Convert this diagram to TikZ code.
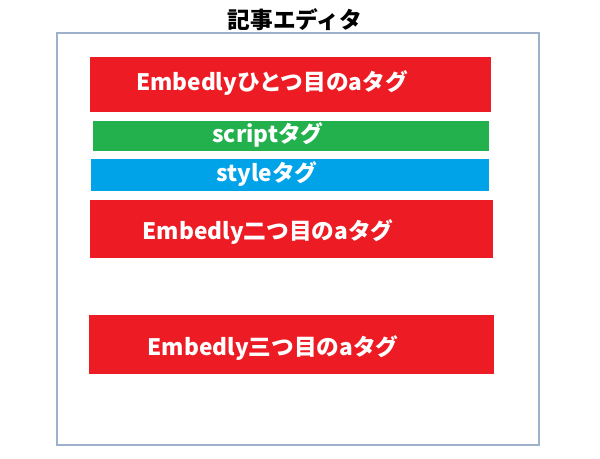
\documentclass[tikz,border=0pt]{standalone}
\usepackage{fontspec}
\setmainfont{Noto Sans CJK JP}
\usetikzlibrary{calc}
\definecolor{pred}{HTML}{ED1C24}
\definecolor{pgreen}{HTML}{22B14C}
\definecolor{pblue}{HTML}{00A2E8}
\definecolor{frame}{HTML}{9DB0CC}
\tikzset{
  box/.style={rectangle, inner sep=0pt, draw=none},
  lbl/.style={text=white, font=\fontsize{17}{19}\selectfont\bfseries, inner sep=0pt, anchor=center},
}
\begin{document}
\begin{tikzpicture}[x=0.75pt,y=-0.75pt]
\useasboundingbox (0,0) rectangle (600,458);
\node[rectangle, draw=frame, line width=1.1pt, minimum width=361.5pt, minimum height=309pt, inner sep=0pt] (frm) at (298,239) {};
\node[font=\fontsize{17}{19}\selectfont\bfseries, inner sep=0pt] (title) at (295,20) {記事エディタ};
\node[box, fill=pred, minimum width=300.75pt, minimum height=41.25pt] (b1) at (290.3,84.5) {};
\node[box, fill=pgreen, minimum width=297pt, minimum height=22.5pt] (b2) at (291,136) {};
\node[box, fill=pblue, minimum width=298.5pt, minimum height=24pt] (b3) at (290,175) {};
\node[box, fill=pred, minimum width=302.25pt, minimum height=43.5pt] (b4) at (291.5,229) {};
\node[box, fill=pred, minimum width=303.75pt, minimum height=44.25pt] (b5) at (291.5,344.5) {};
\node[lbl] (t1) at (272,83) {Embedlyひとつ目のaタグ};
\node[lbl] (t2) at (268,135) {scriptタグ};
\node[lbl] (t3) at (267,174) {styleタグ};
\node[lbl] (t4) at (268,232) {Embedly二つ目のaタグ};
\node[lbl] (t5) at (273,348) {Embedly三つ目のaタグ};
\end{tikzpicture}
\end{document}
